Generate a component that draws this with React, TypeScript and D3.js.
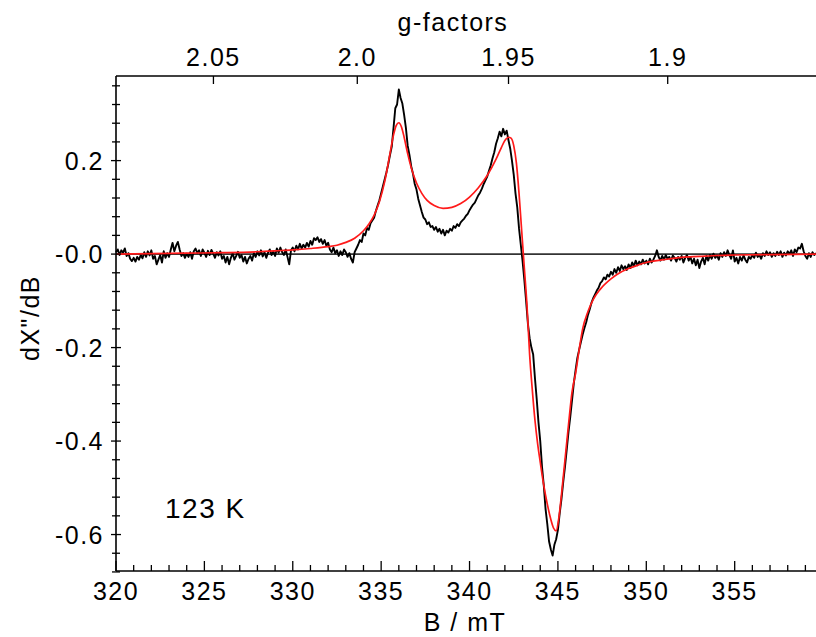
import React from 'react';
import * as d3 from 'd3';

// Sweep of the measured spectrum (mT)
const fieldStart = 320.0;
const fieldStep = 0.1;

// Measured spectrum dX"/dB, one value per 0.1 mT from 320.0 mT
const expSignal = [
  0.004, 0.010, -0.002, 0.008, 0.003, 0.012, -0.004, 0.002, -0.010, -0.015,
  -0.008, -0.016, -0.006, -0.012, -0.002, -0.009, 0.004, -0.006, 0.006, -0.003,
  0.008, -0.010, -0.004, -0.022, -0.012, -0.002, -0.018, 0.006, -0.008, 0.002,
  -0.006, 0.010, 0.024, 0.006, 0.018, 0.026, 0.010, -0.004, 0.002, -0.008,
  0.001, -0.006, 0.004, -0.010, 0.006, 0.012, 0.002, 0.008, -0.004, 0.010,
  0.003, -0.006, 0.007, -0.002, 0.009, 0.001, -0.008, 0.004, -0.003, 0.006,
  -0.010, -0.004, -0.018, -0.006, -0.022, -0.008, 0.002, -0.012, -0.004, 0.005,
  -0.008, -0.002, -0.016, -0.006, -0.020, -0.010, -0.004, -0.014, 0.002, -0.006,
  0.006, -0.003, 0.008, -0.005, 0.004, -0.008, 0.003, 0.010, -0.002, 0.006,
  -0.004, 0.012, 0.003, 0.014, 0.004, -0.002, 0.010, -0.006, -0.022, 0.008,
  0.014, 0.006, 0.018, 0.010, 0.022, 0.012, 0.020, 0.014, 0.024, 0.016,
  0.028, 0.020, 0.034, 0.030, 0.036, 0.026, 0.032, 0.022, 0.030, 0.018,
  0.024, 0.010, 0.004, 0.014, 0.002, 0.008, -0.004, 0.006, -0.002, 0.010,
  0.004, -0.006, 0.002, -0.010, -0.018, 0.004, 0.012, 0.020, 0.030, 0.026,
  0.044, 0.040, 0.056, 0.052, 0.066, 0.072, 0.078, 0.092, 0.104, 0.115,
  0.130, 0.145, 0.160, 0.175, 0.192, 0.212, 0.230, 0.270, 0.312, 0.320,
  0.352, 0.334, 0.322, 0.298, 0.270, 0.232, 0.212, 0.188, 0.172, 0.150,
  0.138, 0.118, 0.104, 0.090, 0.078, 0.074, 0.064, 0.068, 0.058, 0.060,
  0.052, 0.058, 0.048, 0.054, 0.044, 0.052, 0.040, 0.050, 0.046, 0.054,
  0.050, 0.060, 0.056, 0.064, 0.060, 0.068, 0.072, 0.076, 0.082, 0.086,
  0.094, 0.100, 0.106, 0.110, 0.118, 0.126, 0.132, 0.140, 0.150, 0.158,
  0.166, 0.178, 0.190, 0.205, 0.218, 0.236, 0.248, 0.262, 0.252, 0.268,
  0.256, 0.264, 0.244, 0.226, 0.200, 0.170, 0.130, 0.100, 0.055, 0.020,
  -0.015, -0.055, -0.100, -0.148, -0.180, -0.200, -0.215, -0.265, -0.310, -0.360,
  -0.400, -0.455, -0.495, -0.545, -0.578, -0.615, -0.632, -0.645, -0.622, -0.610,
  -0.590, -0.555, -0.524, -0.488, -0.455, -0.418, -0.380, -0.348, -0.312, -0.276,
  -0.248, -0.222, -0.205, -0.188, -0.172, -0.158, -0.146, -0.130, -0.118, -0.104,
  -0.094, -0.086, -0.078, -0.072, -0.062, -0.058, -0.050, -0.054, -0.044, -0.048,
  -0.038, -0.044, -0.032, -0.040, -0.028, -0.036, -0.024, -0.032, -0.026, -0.034,
  -0.022, -0.030, -0.018, -0.026, -0.014, -0.024, -0.016, -0.022, -0.012, -0.020,
  -0.014, -0.022, -0.010, -0.018, -0.012, -0.004, 0.008, -0.006, -0.014, -0.004,
  -0.012, -0.002, -0.010, -0.006, -0.014, -0.003, -0.008, -0.016, -0.006, -0.012,
  -0.004, -0.018, -0.008, -0.002, -0.014, -0.006, -0.020, -0.010, -0.024, -0.012,
  -0.030, -0.016, -0.008, -0.022, -0.004, -0.014, -0.002, -0.010, 0.001, -0.008,
  -0.003, -0.012, 0.002, -0.006, 0.004, -0.004, 0.008, -0.002, -0.010, 0.008,
  -0.016, -0.008, -0.020, -0.006, -0.014, -0.003, -0.012, -0.018, -0.006, -0.010,
  -0.002, -0.008, 0.003, -0.006, -0.002, -0.010, 0.002, -0.004, 0.006, -0.002,
  0.004, -0.006, 0.002, -0.004, 0.005, -0.002, 0.006, -0.006, 0.003, -0.003,
  0.006, 0.000, 0.008, -0.004, 0.010, 0.004, 0.014, 0.012, 0.022, 0.006,
  -0.004, -0.010, 0.002, -0.006, 0.004, -0.002, 0.002,
];

// Simulated (fit) spectrum
const fitField = [
  320.0, 322.0, 324.0, 326.0, 328.0, 329.0, 330.0, 331.0, 332.0, 332.5,
  333.0, 333.5, 334.0, 334.3, 334.6, 334.9, 335.2, 335.5, 335.7, 335.85,
  336.0, 336.15, 336.3, 336.5, 336.7, 337.0, 337.3, 337.6, 338.0, 338.5,
  339.0, 339.5, 340.0, 340.5, 341.0, 341.5, 341.8, 342.0, 342.2, 342.35,
  342.5, 342.65, 342.8, 342.95, 343.1, 343.25, 343.4, 343.55, 343.7, 343.85,
  344.0, 344.2, 344.4, 344.6, 344.75, 344.9, 345.05, 345.2, 345.4, 345.6,
  345.8, 346.0, 346.2, 346.4, 346.7, 347.0, 347.4, 348.0, 348.5, 349.0,
  349.5, 350.0, 351.0, 352.0, 353.0, 354.0, 355.0, 357.0, 359.6,
];
const fitSignal = [
  0.000, 0.001, 0.002, 0.003, 0.005, 0.007, 0.009, 0.012, 0.016, 0.019,
  0.025, 0.034, 0.050, 0.064, 0.083, 0.112, 0.155, 0.215, 0.255, 0.275,
  0.281, 0.272, 0.250, 0.215, 0.185, 0.152, 0.130, 0.115, 0.104, 0.098,
  0.100, 0.108, 0.122, 0.142, 0.168, 0.203, 0.228, 0.243, 0.250, 0.248,
  0.232, 0.195, 0.130, 0.050, -0.030, -0.110, -0.215, -0.290, -0.355, -0.405,
  -0.445, -0.495, -0.535, -0.568, -0.586, -0.592, -0.565, -0.515, -0.440, -0.365,
  -0.295, -0.255, -0.205, -0.160, -0.123, -0.097, -0.075, -0.053, -0.040, -0.031,
  -0.024, -0.018, -0.012, -0.007, -0.005, -0.003, -0.002, -0.001, 0.000,
];

const bTicks = [320, 325, 330, 335, 340, 345, 350, 355];
const gTicks = [2.05, 2.0, 1.95, 1.9];
const gLabels = ['2.05', '2.0', '1.95', '1.9'];
const gFieldConst = 667.3; // g * B (mT)
const yTicks = [0.2, 0.0, -0.2, -0.4, -0.6];
const yLabels = ['0.2', '-0.0', '-0.2', '-0.4', '-0.6'];

const W = 816;
const H = 637;
const left = 116;
const right = 816;
const top = 76;
const bottom = 571;

const font = '"Liberation Sans", Arial, sans-serif';

export default function App() {
  const x = d3.scaleLinear().domain([320, 359.6]).range([left, right]);
  const y = d3.scaleLinear().domain([-0.678, 0.381]).range([bottom, top]);

  const expData = expSignal.map((v, i) => [fieldStart + i * fieldStep, v] as [number, number]);
  const fitData = fitField.map((b, i) => [b, fitSignal[i]] as [number, number]);

  const line = d3
    .line<[number, number]>()
    .x((d) => x(d[0]))
    .y((d) => y(d[1]));
  const smooth = d3
    .line<[number, number]>()
    .x((d) => x(d[0]))
    .y((d) => y(d[1]))
    .curve(d3.curveMonotoneX);

  const bMinor = d3.range(321, 360, 1).filter((b) => b % 5 !== 0);
  const yMinor = d3.range(-0.68, 0.37, 0.04).filter((v) => Math.abs(Math.round(v * 100) % 20) !== 0);

  const textStyle = { fontFamily: font, fontSize: 25, letterSpacing: 1.5, fill: '#000' } as const;

  return (
    <svg
      width={W}
      height={H}
      style={{ position: 'absolute', left: 0, top: 0, background: '#fff' }}
    >
      <rect x={0} y={0} width={W} height={H} fill="#fff" />
      {/* zero line */}
      <line x1={left} x2={right} y1={y(0)} y2={y(0)} stroke="#333" strokeWidth={1.6} />

      {/* measured */}
      <path d={line(expData) || ''} fill="none" stroke="#000" strokeWidth={1.9} strokeLinejoin="round" />
      {/* fit */}
      <path d={smooth(fitData) || ''} fill="none" stroke="#ff1a1a" strokeWidth={1.7} />

      {/* frame */}
      <line x1={left} x2={right} y1={top} y2={top} stroke="#000" strokeWidth={1.6} />
      <line x1={left} x2={right} y1={bottom} y2={bottom} stroke="#000" strokeWidth={1.6} />
      <line x1={left} x2={left} y1={top} y2={bottom} stroke="#000" strokeWidth={1.6} />

      {/* bottom ticks */}
      {bTicks.map((b) => (
        <g key={'bt' + b}>
          <line x1={x(b)} x2={x(b)} y1={bottom} y2={bottom - 10} stroke="#000" strokeWidth={1.3} />
          <text x={x(b)} y={bottom + 29} textAnchor="middle" style={textStyle}>
            {b}
          </text>
        </g>
      ))}
      {bMinor.map((b) => (
        <line key={'bm' + b} x1={x(b)} x2={x(b)} y1={bottom} y2={bottom - 6} stroke="#000" strokeWidth={1.3} />
      ))}

      {/* top g-factor ticks */}
      {gTicks.map((g, i) => (
        <g key={'g' + g}>
          <line x1={x(gFieldConst / g)} x2={x(gFieldConst / g)} y1={top} y2={top + 8} stroke="#000" strokeWidth={1.3} />
          <text x={x(gFieldConst / g)} y={top - 10} textAnchor="middle" style={textStyle}>
            {gLabels[i]}
          </text>
        </g>
      ))}

      {/* left ticks */}
      {yTicks.map((v, i) => (
        <g key={'yt' + v}>
          <line x1={left - 5} x2={left + 5} y1={y(v)} y2={y(v)} stroke="#000" strokeWidth={1.3} />
          <text x={left - 12} y={y(v) + 9} textAnchor="end" style={textStyle}>
            {yLabels[i]}
          </text>
        </g>
      ))}
      {yMinor.map((v) => (
        <line key={'ym' + v} x1={left - 4} x2={left + 4} y1={y(v)} y2={y(v)} stroke="#000" strokeWidth={1.3} />
      ))}

      {/* axis titles */}
      <text x={453} y={31} textAnchor="middle" style={textStyle}>
        g-factors
      </text>
      <text x={465} y={631} textAnchor="middle" style={textStyle}>
        B / mT
      </text>
      <text
        transform={`translate(39, 318) rotate(-90)`}
        textAnchor="middle"
        style={textStyle}
      >
        dX"/dB
      </text>
      <text x={165} y={518} style={{ ...textStyle, fontSize: 28 }}>
        123 K
      </text>
    </svg>
  );
}
